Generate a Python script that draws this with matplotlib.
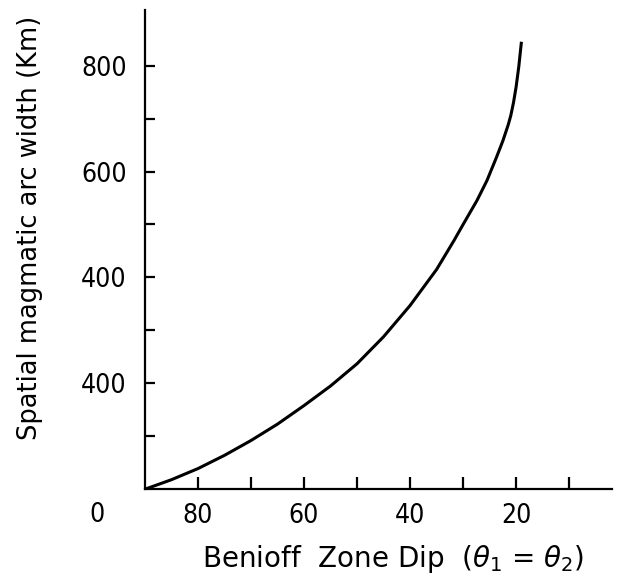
import matplotlib
matplotlib.use("Agg")
import matplotlib.pyplot as plt
from matplotlib import font_manager

# curve: dip (deg) -> arc width (km)
dip = [90, 85, 80, 75, 70, 65, 60, 55, 50, 45, 40, 35, 31.7, 30, 27.4,
       25.5, 23.7, 22.5, 21.5, 21, 20.5, 20, 19.5, 19]
width = [0, 18, 39, 64, 92, 123, 158, 195, 237, 288, 347, 415, 470, 500, 545,
         583, 627, 658, 688, 706, 730, 760, 798, 845]

xticks = [80, 70, 60, 50, 40, 30, 20, 10]
xticklabels = ["80", "", "60", "", "40", "", "20", ""]
yticks = [100, 200, 300, 400, 500, 600, 700, 800]
yticklabels = ["", "400", "", "400", "", "600", "", "800"]  # as printed

plt.rcParams['font.family'] = 'DejaVu Sans'

# condensed digits look closer to the scan, if such a face is there
cond = [f for f in font_manager.fontManager.ttflist
        if f.name == 'DejaVu Sans' and f.stretch == 'condensed']
numstretch = 'condensed' if cond else 'normal'
numsize = 19 if cond else 17

fig = plt.figure(figsize=(6.18, 5.88), dpi=100)
ax = fig.add_axes([0.2346, 0.168, 0.755, 0.815])

ax.plot(dip, width, color="black", lw=2.2, solid_capstyle="butt")

ax.set_xlim(90, 2)
ax.set_ylim(0, 905)

for s in ["top", "right"]:
    ax.spines[s].set_visible(False)
for s in ["left", "bottom"]:
    ax.spines[s].set_linewidth(1.6)

ax.set_xticks(xticks)
ax.set_xticklabels(xticklabels, fontstretch=numstretch, fontsize=numsize)
ax.set_yticks(yticks)
ax.set_yticklabels(yticklabels, fontstretch=numstretch, fontsize=numsize)
ax.tick_params(axis="x", direction="in", length=9, width=1.6, pad=10)
ax.tick_params(axis="y", direction="in", length=7, width=1.6, pad=13)

ax.annotate("0", xy=(90, 0), xycoords="data", xytext=(-48, -26),
            textcoords="offset pixels", ha="center", va="center",
            fontstretch=numstretch, fontsize=numsize)

ax.set_xlabel(r"Benioff  Zone Dip  ($\theta_1$ = $\theta_2$)", fontsize=20)
ax.xaxis.set_label_coords(0.531, -0.112)
ax.set_ylabel("Spatial magmatic arc width (Km)", fontsize=18.5)
ax.yaxis.set_label_coords(-0.218, 0.546)

fig.savefig("out.png", dpi=100)
